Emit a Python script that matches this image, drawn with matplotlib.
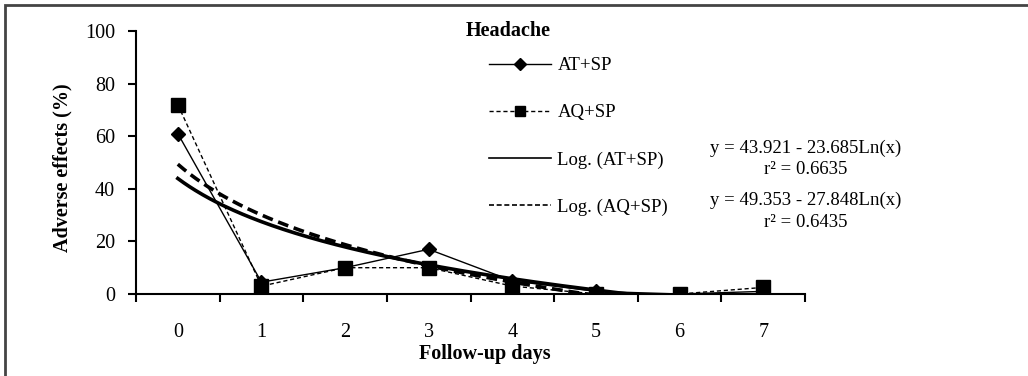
import numpy as np
import matplotlib
matplotlib.use("Agg")
import matplotlib.pyplot as plt
from matplotlib.patches import Rectangle

days = [0, 1, 2, 3, 4, 5, 6, 7]
at_sp = [61, 4.5, 10, 17, 5, 1, 0, 1]
aq_sp = [72, 3, 10, 10, 3, 0, 0, 2.5]
at_coef = [43.921, -23.685]
aq_coef = [49.353, -27.848]
yticks = [0, 20, 40, 60, 80, 100]
labels = ["AT+SP", "AQ+SP", "Log. (AT+SP)", "Log. (AQ+SP)"]
eq_texts = ["y = 43.921 - 23.685Ln(x)", "r\u00b2 = 0.6635",
            "y = 49.353 - 27.848Ln(x)", "r\u00b2 = 0.6435"]

plt.rcParams['font.family'] = ['Liberation Serif', 'DejaVu Serif']
FS = 13.5
FT = 14.5
FB = 14.5

fig = plt.figure(figsize=(10.28, 3.76), dpi=100)
fig.patches.append(Rectangle((5/1028, -0.1), 1.2, 1 - 5/376 + 0.1,
                             transform=fig.transFigure, fill=False,
                             edgecolor='#444444', lw=2.0))
ax = fig.add_axes([136/1028, 1 - 294/376, (805 - 136)/1028, (294 - 31)/376])

x = np.array(days)
l1, = ax.plot(x, at_sp, color='black', lw=1.0, marker='D', markersize=7.5,
              zorder=4)
l2, = ax.plot(x, aq_sp, color='black', lw=1.0, ls=(0, (3, 2)), marker='s',
              markersize=10.5, zorder=4)
xs = np.linspace(1, 8, 400)
t1, = ax.plot(xs - 1, at_coef[0] + at_coef[1] * np.log(xs), color='black',
              lw=2.6, zorder=3)
t2, = ax.plot(xs - 1, aq_coef[0] + aq_coef[1] * np.log(xs), color='black',
              lw=2.6, ls=(0, (3, 1.6)), zorder=3)

ax.set_xlim(-0.5, 7.5)
ax.set_ylim(0, 100)
ax.set_xticks(np.arange(-0.5, 8, 1))
ax.set_xticklabels([])
ax.set_xticks(x, minor=True)
ax.set_xticklabels([str(d) for d in days], minor=True, fontsize=FT)
ax.tick_params(axis='x', which='major', direction='out', length=6, width=1.5)
ax.tick_params(axis='x', which='minor', length=0, pad=21)
ax.set_yticks(yticks)
ax.set_yticklabels([str(v) for v in yticks], fontsize=FT)
ax.tick_params(axis='y', direction='out', length=6, width=1.5, pad=9)
for s in ['top', 'right']:
    ax.spines[s].set_visible(False)
for s in ['left', 'bottom']:
    ax.spines[s].set_linewidth(1.5)
ax.set_facecolor('none')

ax.set_xlabel("Follow-up days", fontsize=FB, fontweight='bold')
ax.xaxis.set_label_coords((484.5 - 136) / 669, -(354 - 294) / 263)
ax.xaxis.label.set_va('center')
ax.set_ylabel("Adverse effects (%)", fontsize=FB, fontweight='bold')
ax.yaxis.set_label_coords(-(136 - 62) / 669, (294 - 167.5) / 263)
ax.yaxis.label.set_va('center')

fig.text(508/1028, 1 - 31/376, "Headache", fontsize=FB, fontweight='bold',
         ha='center', va='center')

leg = fig.legend([l1, l2, t1, t2], labels, loc='upper left',
                 bbox_to_anchor=(489/1028, 1 - 57/376), frameon=False,
                 fontsize=FS, handlelength=3.3, handletextpad=0.35,
                 labelspacing=1.6, borderpad=0, borderaxespad=0,
                 markerscale=0.75)
for h in leg.legend_handles[2:]:
    h.set_linewidth(1.2)

ys = [148, 170, 200, 222]
for t, yy in zip(eq_texts, ys):
    fig.text(806/1028, 1 - yy/376, t, fontsize=FS, ha='center', va='center')

fig.savefig("out.png", dpi=100)
